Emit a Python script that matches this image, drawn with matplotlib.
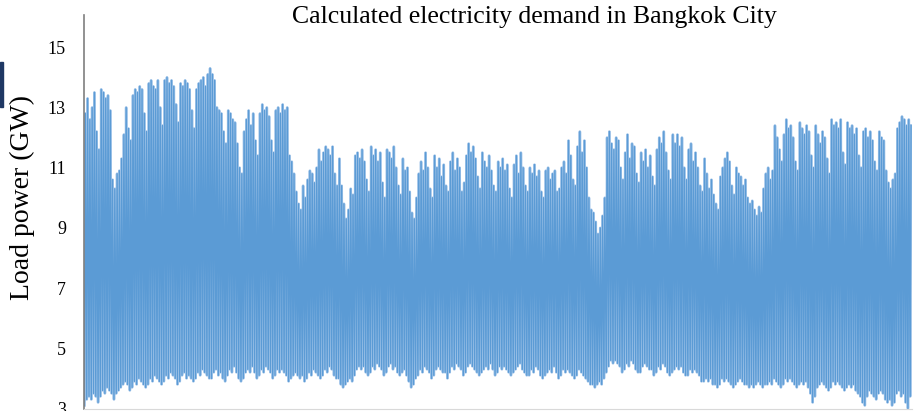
import matplotlib
matplotlib.use("Agg")
import matplotlib.pyplot as plt
import numpy as np
from matplotlib.patches import Rectangle

# daily peak load (GW), one row per week
daily_peak = [
    [12.8, 13.3, 12.6, 13.0, 13.5, 12.2, 11.6],
    [13.6, 13.5, 13.3, 13.4, 12.9, 10.6, 10.3],
    [10.8, 10.9, 11.3, 12.1, 13.0, 12.3, 11.9],
    [13.4, 13.6, 13.5, 13.7, 13.6, 12.8, 12.2],
    [13.8, 13.9, 13.7, 13.6, 13.9, 13.0, 12.4],
    [13.9, 14.0, 13.8, 13.9, 13.7, 13.1, 12.5],
    [13.8, 13.7, 13.9, 13.8, 13.6, 12.9, 12.3],
    [13.6, 13.8, 13.9, 14.0, 13.7, 14.1, 14.3],
    [14.1, 13.9, 13.0, 12.9, 12.8, 12.2, 11.8],
    [12.9, 12.8, 12.6, 12.5, 11.8, 11.0, 10.8],
    [12.2, 12.6, 12.9, 12.4, 12.8, 11.9, 11.4],
    [12.8, 13.1, 12.9, 13.0, 12.7, 11.9, 11.5],
    [12.9, 13.0, 12.8, 13.1, 12.9, 13.0, 11.4],
    [11.2, 10.8, 10.2, 9.8, 9.6, 10.4, 10.0],
    [10.6, 10.9, 10.8, 10.5, 11.0, 11.6, 11.2],
    [11.5, 11.7, 11.6, 11.4, 11.7, 10.8, 10.4],
    [11.3, 10.4, 9.8, 9.3, 9.6, 10.3, 10.1],
    [11.4, 11.5, 11.3, 11.6, 11.2, 10.6, 10.2],
    [11.7, 11.4, 11.6, 11.2, 11.5, 10.5, 10.0],
    [11.6, 11.5, 11.3, 11.7, 11.0, 10.4, 10.1],
    [11.3, 10.9, 11.0, 10.2, 9.5, 9.3, 10.0],
    [10.8, 11.2, 10.9, 11.5, 11.0, 10.3, 10.0],
    [11.4, 11.0, 11.3, 10.7, 11.1, 10.4, 10.2],
    [11.2, 11.5, 10.9, 11.3, 11.0, 10.2, 10.5],
    [11.4, 11.8, 11.5, 11.7, 11.3, 10.7, 10.3],
    [11.5, 11.2, 11.0, 11.4, 10.9, 10.4, 10.2],
    [11.2, 11.0, 11.3, 10.9, 11.1, 10.3, 10.0],
    [11.1, 11.4, 10.8, 11.5, 11.0, 10.4, 10.2],
    [11.0, 10.8, 11.1, 10.7, 10.9, 10.2, 10.0],
    [10.9, 11.0, 10.6, 10.8, 10.9, 10.2, 10.3],
    [11.0, 11.2, 10.8, 11.9, 11.4, 10.6, 10.4],
    [11.7, 12.2, 11.5, 11.9, 11.0, 10.0, 9.6],
    [9.5, 9.2, 8.8, 9.0, 9.4, 10.0, 12.0],
    [12.2, 11.8, 11.6, 12.0, 11.9, 11.0, 10.6],
    [11.5, 12.1, 11.3, 11.8, 11.7, 10.8, 10.5],
    [11.5, 11.2, 11.6, 11.0, 11.4, 10.7, 10.4],
    [11.6, 12.0, 11.8, 12.2, 11.5, 10.9, 10.6],
    [12.1, 11.8, 12.1, 11.7, 12.0, 11.0, 10.6],
    [11.6, 11.8, 11.2, 11.5, 11.0, 10.4, 10.2],
    [11.3, 10.8, 10.3, 10.6, 10.1, 9.8, 9.6],
    [10.7, 11.0, 11.3, 11.5, 11.2, 10.4, 10.1],
    [11.0, 10.8, 10.7, 10.4, 10.6, 10.0, 9.8],
    [9.9, 9.6, 9.4, 9.7, 9.5, 10.3, 10.8],
    [11.0, 10.6, 10.9, 12.4, 12.0, 11.6, 11.2],
    [12.1, 12.6, 12.3, 12.4, 12.0, 11.2, 10.9],
    [12.5, 12.3, 12.1, 12.4, 12.2, 11.4, 11.0],
    [12.4, 12.1, 11.8, 12.2, 12.0, 11.3, 10.8],
    [12.6, 12.4, 12.5, 12.3, 12.6, 11.5, 11.1],
    [12.5, 12.3, 12.4, 12.1, 12.3, 11.4, 11.0],
    [12.2, 12.3, 12.0, 12.2, 11.9, 11.2, 10.9],
    [12.2, 12.0, 11.9, 10.9, 10.5, 10.3, 10.6],
    [10.8, 12.3, 12.5, 12.7, 12.6, 12.4, 12.6],
    [12.4],
]

# daily night-time minimum load (GW), one row per week
daily_trough = [
    [3.1, 3.3, 3.4, 3.3, 3.5, 3.4, 3.2],
    [3.4, 3.6, 3.5, 3.7, 3.6, 3.5, 3.3],
    [3.5, 3.6, 3.7, 3.8, 3.9, 3.8, 3.6],
    [3.7, 3.9, 3.8, 4.0, 3.9, 3.8, 3.7],
    [3.8, 4.0, 3.9, 4.1, 4.0, 3.9, 3.8],
    [3.9, 4.1, 4.0, 4.2, 4.1, 4.0, 3.8],
    [3.9, 4.1, 4.2, 4.0, 4.1, 4.0, 3.9],
    [4.0, 4.2, 4.1, 4.3, 4.2, 4.1, 4.0],
    [4.0, 4.2, 4.3, 4.1, 4.2, 4.0, 3.9],
    [4.1, 4.3, 4.2, 4.4, 4.2, 4.0, 3.9],
    [4.0, 4.2, 4.3, 4.2, 4.4, 4.2, 4.0],
    [4.1, 4.3, 4.2, 4.4, 4.3, 4.2, 4.0],
    [4.1, 4.3, 4.2, 4.3, 4.2, 4.1, 3.9],
    [4.0, 4.1, 4.2, 4.1, 4.0, 4.1, 3.9],
    [4.0, 4.2, 4.1, 4.3, 4.2, 4.1, 4.0],
    [4.1, 4.3, 4.2, 4.4, 4.3, 4.1, 4.0],
    [4.0, 3.8, 3.7, 3.8, 3.9, 4.0, 3.9],
    [4.1, 4.3, 4.4, 4.3, 4.4, 4.2, 4.1],
    [4.2, 4.4, 4.3, 4.5, 4.4, 4.3, 4.1],
    [4.2, 4.4, 4.5, 4.3, 4.4, 4.2, 4.1],
    [4.2, 4.3, 4.1, 3.9, 3.7, 3.8, 4.0],
    [4.1, 4.3, 4.2, 4.4, 4.3, 4.2, 4.0],
    [4.1, 4.3, 4.4, 4.3, 4.2, 4.2, 4.0],
    [4.2, 4.4, 4.3, 4.5, 4.4, 4.3, 4.1],
    [4.2, 4.4, 4.5, 4.4, 4.3, 4.2, 4.1],
    [4.2, 4.3, 4.4, 4.3, 4.5, 4.3, 4.1],
    [4.2, 4.4, 4.3, 4.4, 4.3, 4.2, 4.1],
    [4.2, 4.3, 4.4, 4.5, 4.3, 4.2, 4.1],
    [4.1, 4.3, 4.2, 4.4, 4.3, 4.1, 4.0],
    [4.1, 4.2, 4.3, 4.2, 4.4, 4.2, 4.0],
    [4.1, 4.3, 4.2, 4.3, 4.2, 4.1, 4.0],
    [4.1, 4.3, 4.2, 4.1, 4.0, 3.9, 3.8],
    [3.8, 3.7, 3.8, 3.9, 3.8, 4.0, 4.2],
    [4.4, 4.6, 4.5, 4.6, 4.5, 4.4, 4.2],
    [4.3, 4.5, 4.4, 4.6, 4.5, 4.3, 4.2],
    [4.2, 4.4, 4.5, 4.4, 4.3, 4.3, 4.1],
    [4.2, 4.4, 4.3, 4.5, 4.4, 4.2, 4.1],
    [4.2, 4.3, 4.4, 4.3, 4.4, 4.2, 4.1],
    [4.1, 4.3, 4.2, 4.3, 4.2, 4.1, 3.9],
    [3.9, 4.0, 3.9, 4.0, 3.8, 3.8, 3.7],
    [3.8, 4.0, 3.9, 4.0, 3.9, 3.8, 3.7],
    [3.8, 3.9, 4.0, 3.9, 3.8, 3.8, 3.7],
    [3.8, 3.7, 3.8, 3.9, 3.8, 3.7, 3.8],
    [3.8, 3.9, 3.8, 4.0, 3.9, 3.8, 3.7],
    [3.8, 4.0, 3.9, 4.0, 3.9, 3.8, 3.7],
    [3.8, 3.9, 3.8, 3.9, 3.7, 3.5, 3.2],
    [3.4, 3.7, 3.8, 3.9, 3.8, 3.7, 3.6],
    [3.7, 3.9, 3.8, 3.9, 3.8, 3.7, 3.6],
    [3.7, 3.8, 3.7, 3.8, 3.6, 3.5, 3.4],
    [3.2, 3.1, 3.4, 3.6, 3.5, 3.4, 3.3],
    [3.5, 3.6, 3.5, 3.3, 3.2, 3.3, 3.1],
    [3.2, 3.5, 3.6, 3.4, 3.5, 3.2, 3.0],
    [3.4],
]

peaks = np.concatenate([np.array(w, dtype=float) for w in daily_peak])
troughs = np.concatenate([np.array(w, dtype=float) for w in daily_trough])
ndays = len(peaks)

# hour of day for morning minimum and afternoon maximum
t_low, t_high = 5, 14
day = np.arange(ndays)
hours = np.empty(2 * ndays)
load = np.empty(2 * ndays)
hours[0::2] = day * 24 + t_low
hours[1::2] = day * 24 + t_high
load[0::2] = troughs
load[1::2] = peaks

plt.rcParams['font.family'] = ['Liberation Serif', 'DejaVu Serif']

fig = plt.figure(figsize=(9.22, 4.11), dpi=100)
ax = fig.add_axes([84 / 922, 2.5 / 411, 828 / 922, 393.5 / 411])
ax.plot(hours, load, color='#A9C9EB', lw=1.9)
ax.plot(hours, load, color='#5B9BD5', lw=1.0)

ax.set_xlim(0, ndays * 24)
ax.set_ylim(3, 16.07)
ax.set_yticks([3, 5, 7, 9, 11, 13, 15])
ax.set_xticks([])
ax.tick_params(axis='y', length=0, pad=13, labelsize=13)
for s in ['top', 'right']:
    ax.spines[s].set_visible(False)
ax.spines['left'].set_color('#7F7F7F')
ax.spines['left'].set_linewidth(1.2)
ax.spines['bottom'].set_color('#D9D9D9')

fig.text(22 / 922, 1 - 197 / 411, 'Load power (GW)', rotation=90,
         ha='center', va='center', fontsize=20)
fig.text(534 / 922, 1 - 17 / 411, 'Calculated electricity demand in Bangkok City',
         ha='center', va='center', fontsize=18.5)

# cropped dark element at the left edge
fig.patches.append(Rectangle((0, 1 - 107 / 411), 3 / 922, 45 / 411,
                             transform=fig.transFigure, color='#1F3864'))

fig.savefig('out.png', dpi=100)
